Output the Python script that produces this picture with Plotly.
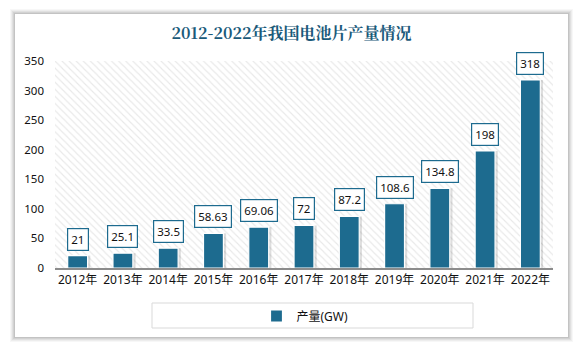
import plotly.graph_objects as go

categories = ["2012年", "2013年", "2014年", "2015年", "2016年", "2017年",
              "2018年", "2019年", "2020年", "2021年", "2022年"]
values = [21, 25.1, 33.5, 58.63, 69.06, 72, 87.2, 108.6, 134.8, 198, 318]
labels = ["21", "25.1", "33.5", "58.63", "69.06", "72", "87.2", "108.6", "134.8", "198", "318"]
y_ticks = [0, 50, 100, 150, 200, 250, 300, 350]

BAR = "#1d6b8f"
TEAL = "#1d6b8f"
SANS = "Noto Sans, Noto Sans CJK SC, sans-serif"

fig = go.Figure()

# hatched plot background (base axes, hidden)
fig.add_trace(go.Bar(
    x=[0.5], y=[1], width=[1], xaxis="x", yaxis="y",
    marker=dict(color="white", line=dict(width=0),
                pattern=dict(shape="\\", fgcolor="#d2d2d2", size=5, solidity=0.22)),
    showlegend=False, hoverinfo="skip"))

# bar shadows
fig.add_trace(go.Bar(
    x=categories, y=values, xaxis="x2", yaxis="y2", width=0.46, offset=-0.18,
    marker=dict(color="rgba(0,0,0,0.13)", line=dict(width=0)),
    showlegend=False, hoverinfo="skip"))

# data bars
fig.add_trace(go.Bar(
    x=categories, y=values, xaxis="x2", yaxis="y2", width=0.44, offset=-0.22,
    name="产量(GW)",
    marker=dict(color=BAR, line=dict(color="white", width=1.2))))

annotations = []
for c, v, t in zip(categories, values, labels):
    annotations.append(dict(
        x=c, y=v, xref="x2", yref="y2", text=t, showarrow=False,
        yanchor="bottom", yshift=5,
        font=dict(family=SANS, size=11.5, color="#111111"),
        bgcolor="white", bordercolor=TEAL, borderwidth=1.2, borderpad=3))

shapes = []
# card shadow
for i, op in enumerate([0.03, 0.04, 0.05, 0.06, 0.07]):
    d = 5 - i
    shapes.append(dict(type="rect", xref="paper", yref="paper", layer="below",
                       x0=(15 - 55 - d) / 498, x1=(568 - 55 + d) / 498,
                       y0=(268 - 337 - d) / 207, y1=(268 - 14 + d) / 207,
                       fillcolor=f"rgba(0,0,0,{op})", line=dict(width=0)))
shapes.append(dict(type="rect", xref="paper", yref="paper", layer="below",
                   x0=(15 - 55) / 498, x1=(568 - 55) / 498,
                   y0=(268 - 337) / 207, y1=(268 - 14) / 207,
                   fillcolor="white", line=dict(width=0)))
# legend box
shapes.append(dict(type="rect", xref="paper", yref="paper", layer="below",
                   x0=(152 - 55) / 498, x1=(473 - 55) / 498,
                   y0=(268 - 328) / 207, y1=(268 - 303) / 207,
                   fillcolor="white", line=dict(color="#d9d9d9", width=1)))

fig.update_layout(
    width=583, height=349,
    margin=dict(l=55, r=30, t=61, b=81),
    paper_bgcolor="white", plot_bgcolor="rgba(0,0,0,0)",
    barmode="overlay",
    title=dict(text="<b>2012-2022年我国电池片产量情况</b>", x=0.5, xanchor="center",
               y=1 - 33 / 349, yanchor="middle",
               font=dict(family="Noto Serif CJK SC, Noto Sans CJK SC", size=16, color="#1a5a7a")),
    xaxis=dict(range=[0, 1], visible=False, fixedrange=True),
    yaxis=dict(range=[0, 1], visible=False, fixedrange=True),
    xaxis2=dict(overlaying="x", anchor="y2", side="bottom", type="category",
                range=[-0.5, 10.5], showgrid=False, showline=True,
                linecolor="#8c8c8c", linewidth=1.5, ticks="",
                tickfont=dict(family=SANS, size=12, color="#111111")),
    yaxis2=dict(overlaying="y", anchor="x2", side="left", range=[0, 350],
                tickvals=y_ticks, showgrid=False, zeroline=False, showline=False,
                ticks="", ticklabelstandoff=10,
                tickfont=dict(family=SANS, size=11.5, color="#111111")),
    showlegend=True,
    legend=dict(x=(305 - 55) / 498, y=(268 - 316) / 207, xanchor="center", yanchor="middle",
                orientation="h", bgcolor="rgba(0,0,0,0)",
                font=dict(family=SANS, size=12, color="#111111")),
    annotations=annotations,
    shapes=shapes,
)

fig.write_html("out.html")
